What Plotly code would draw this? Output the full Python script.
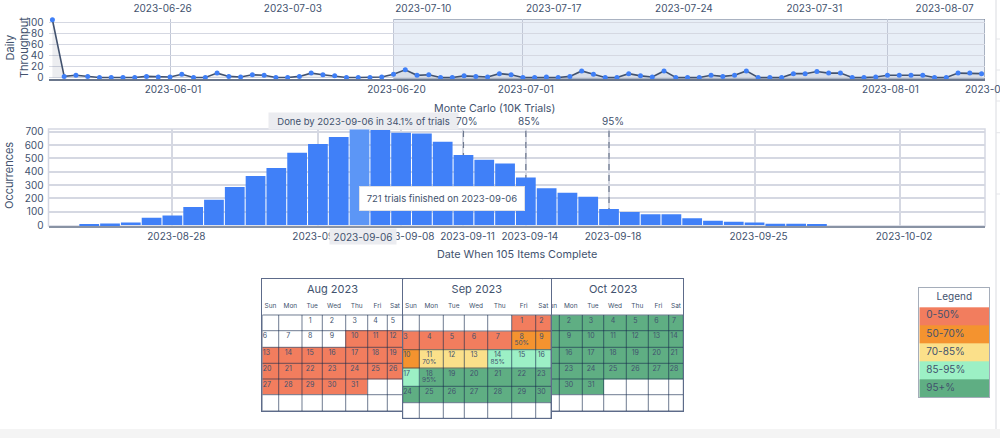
import pandas as pd
import plotly.graph_objects as go

W, H = 1000, 438
TEXT = "#42526e"
GRID = "#d5d8e2"
FONT = "Inter"

# ---------- data ----------
throughput_start = "2023-05-22"
throughput = [105, 2, 4, 2, 0, 0, 0, 0, 2, 1, 1, 6, 0, 0, 8, 2, 1, 5, 4, 0,
              0, 2, 8, 5, 3, 0, 0, 0, 1, 6, 14, 4, 5, 0, 0, 3, 2, 1, 7, 5,
              0, 0, 1, 0, 2, 12, 6, 0, 0, 7, 3, 1, 12, 0, 0, 0, 4, 2, 4, 12,
              0, 0, 0, 7, 7, 11, 8, 8, 0, 0, 1, 4, 4, 4, 4, 0, 0, 8, 8, 7]
top_lower_ticks = ["2023-06-01", "2023-06-20", "2023-07-01", "2023-08-01"]
top_upper_ticks = ["2023-06-26", "2023-07-03", "2023-07-10", "2023-07-17",
                   "2023-07-24", "2023-07-31", "2023-08-07"]

mc_start = "2023-08-24"
mc_counts = [7, 12, 20, 55, 72, 135, 190, 285, 367, 427, 542, 607, 660, 721,
             712, 692, 687, 625, 525, 490, 462, 357, 275, 242, 212, 120, 97, 82,
             82, 52, 32, 25, 20, 10, 10, 7]
mc_ticks = ["2023-08-28", "2023-09-04", "2023-09-08", "2023-09-11",
            "2023-09-14", "2023-09-18", "2023-09-25", "2023-10-02"]
pct_labels = ["70%", "85%", "95%"]
pct_dates = ["2023-09-11", "2023-09-14", "2023-09-18"]
weekdays = ["Sun", "Mon", "Tue", "Wed", "Thu", "Fri", "Sat"]

band_names = ["0-50%", "50-70%", "70-85%", "85-95%", "95+%"]
band_colors = ["#f27d5e", "#f4932f", "#fbe08a", "#9cf0c5", "#5fae83"]

aug_days = [["", "", 1, 2, 3, 4, 5], [6, 7, 8, 9, 10, 11, 12], [13, 14, 15, 16, 17, 18, 19],
            [20, 21, 22, 23, 24, 25, 26], [27, 28, 29, 30, 31, "", ""], [""] * 7]
aug_bands = [[0, 0, 0, 0, 0, 0, 0], [0, 0, 0, 0, 1, 1, 1], [1] * 7, [1] * 7, [1, 1, 1, 1, 1, 0, 0], [0] * 7]
sep_days = [["", "", "", "", "", 1, 2], [3, 4, 5, 6, 7, 8, 9], [10, 11, 12, 13, 14, 15, 16],
            [17, 18, 19, 20, 21, 22, 23], [24, 25, 26, 27, 28, 29, 30], [""] * 7]
sep_bands = [[0, 0, 0, 0, 0, 1, 1], [1, 1, 1, 1, 1, 2, 2], [2, 3, 3, 3, 4, 4, 4],
             [4, 5, 5, 5, 5, 5, 5], [5] * 7, [0] * 7]
oct_days = [[1, 2, 3, 4, 5, 6, 7], [8, 9, 10, 11, 12, 13, 14], [15, 16, 17, 18, 19, 20, 21],
            [22, 23, 24, 25, 26, 27, 28], [29, 30, 31, "", "", "", ""], [""] * 7]
oct_bands = [[5] * 7, [5] * 7, [5] * 7, [5] * 7, [5, 5, 5, 0, 0, 0, 0], [0] * 7]
sep_marks = {8: "50%", 11: "70%", 14: "85%", 18: "95%"}


# ---------- helpers ----------
def fx(px):
    return px / W


def fy(py):
    return 1 - py / H


dates_top = [str(d.date()) for d in pd.date_range(throughput_start, periods=len(throughput))]
dates_mc = [str(d.date()) for d in pd.date_range(mc_start, periods=len(mc_counts))]

fig = go.Figure()

# ---------- throughput ----------
fig.add_trace(go.Scatter(x=dates_top, y=throughput, mode="lines+markers", xaxis="x", yaxis="y",
                         line=dict(color="#42526e", width=1.6), marker=dict(color="#3f7ff7", size=5),
                         fill="tozeroy", fillcolor="rgba(66,82,110,0.10)", cliponaxis=False, showlegend=False))
# carrier trace so the upper date axis is drawn
fig.add_trace(go.Scatter(x=top_upper_ticks, y=[0] * len(top_upper_ticks), mode="none", xaxis="x2", yaxis="y",
                         showlegend=False, hoverinfo="skip"))

# ---------- monte carlo ----------
fig.add_trace(go.Bar(x=dates_mc, y=mc_counts, xaxis="x3", yaxis="y3", showlegend=False,
                     marker=dict(color=["#5c96f6" if d == "2023-09-06" else "#4080f8" for d in dates_mc], line_width=0)))

common_tick = dict(tickfont=dict(size=10, color=TEXT, family=FONT))
hidden_tick = dict(ticks="outside", ticklen=2, tickcolor="rgba(0,0,0,0)")
layout = dict(
    width=W, height=H, margin=dict(l=0, r=0, t=0, b=0, autoexpand=False), autosize=False,
    paper_bgcolor="white", plot_bgcolor="white", showlegend=False, bargap=0.05,
    font=dict(family=FONT, color=TEXT, size=10),
    xaxis=dict(domain=[fx(48.5), fx(985)], anchor="y", type="date",
               range=["2023-05-21 16:00", "2023-08-09 07:00"], tickmode="array", tickvals=top_lower_ticks,
               ticktext=top_lower_ticks, gridcolor="#c1c7d6", gridwidth=1, showline=True, linecolor="#6b778c",
               linewidth=1.5, ticks="", ticklabelshift=3, **common_tick),
    xaxis2=dict(overlaying="x", side="top", anchor="y", type="date",
                range=["2023-06-19 21:00", "2023-08-09 04:00"], tickmode="array", tickvals=top_upper_ticks,
                ticktext=top_upper_ticks, showgrid=False, ticks="outside", ticklen=2, tickcolor="rgba(0,0,0,0)",
                showline=False, **common_tick),
    yaxis=dict(domain=[fy(79), fy(19)], anchor="x", range=[-2.7, 106.4], tickmode="array",
               tickvals=[0, 20, 40, 60, 80, 100], gridcolor=GRID, gridwidth=1, zeroline=False, showline=False,
               **hidden_tick, **common_tick),
    xaxis3=dict(domain=[fx(48.5), fx(985)], anchor="y3", type="date",
                range=["2023-08-22 01:00", "2023-10-06 02:00"], tickmode="array", tickvals=mc_ticks,
                ticktext=mc_ticks, gridcolor=GRID, gridwidth=1.5, showline=True, linecolor="#8993a4",
                linewidth=1.5, mirror=False, ticks="", ticklabelshift=4, **common_tick),
    yaxis3=dict(domain=[fy(226), fy(129)], anchor="x3", range=[-7, 720], tickmode="array",
                tickvals=[0, 100, 200, 300, 400, 500, 600, 700], gridcolor=GRID, gridwidth=1.5, zeroline=False,
                showline=False, **hidden_tick, **common_tick),
)

shapes = [
    dict(type="rect", xref="x", yref="y", x0="2023-06-20", x1="2023-08-09 07:00", y0=-2.7, y1=106.4,
         fillcolor="#e8eef7", line=dict(color="#6b778c", width=1), layer="below"),
    dict(type="rect", xref="x3 domain", yref="y3 domain", x0=0, x1=1, y0=0, y1=1,
         line=dict(color=GRID, width=1.5), layer="below"),
    # page chrome
    dict(type="rect", xref="paper", yref="paper", x0=0, x1=1, y0=0, y1=fy(429),
         fillcolor="#f4f4f4", line=dict(width=0), layer="above"),
    dict(type="line", xref="paper", yref="paper", x0=fx(996), x1=fx(996), y0=fy(429), y1=1,
         line=dict(color="#d9dbe0", width=1), layer="below"),
]
for py in [39, 70, 101, 132.7, 194]:
    shapes.append(dict(type="line", xref="paper", yref="paper", x0=fx(996), x1=1, y0=fy(py), y1=fy(py),
                       line=dict(color="#e4e5e9", width=1), layer="below"))
for d in pct_dates:
    shapes.append(dict(type="line", xref="x3", yref="y3", x0=d, x1=d, y0=0, y1=720,
                       line=dict(color="#6b778c", width=1.2, dash="6px,5px"), layer="between"))

annotations = []


def label(px, py, text, size=10, **kw):
    annotations.append(dict(x=fx(px), y=fy(py), xref="paper", yref="paper", xanchor="center", yanchor="middle",
                            text=text, showarrow=False, font=dict(size=size, color=TEXT, family=FONT), **kw))


label(494, 109, "Monte Carlo (10K Trials)", 10.7)
label(517, 254, "Date When 105 Items Complete", 10.8)
label(9, 176, "Occurrences", 11, textangle=-90)
label(17, 48, "Daily<br>Throughput", 11, textangle=-90)
label(993, 89, "2023-08-10", 10)
label(363.5, 121, "Done by 2023-09-06 in 34.1% of trials", 9.5, bgcolor="#ebecf0", width=189, height=16, borderpad=0)
for t, d in zip(pct_labels, pct_dates):
    annotations.append(dict(x=d, y=fy(121), xref="x3", yref="paper", xshift=3.5, yanchor="middle", text=t,
                            showarrow=False, font=dict(size=10, color=TEXT, family=FONT)))
label(363, 236.5, "2023-09-06", 10, bgcolor="#ebecf0", width=66, height=15, borderpad=0)
label(441.5, 198, "721 trials finished on 2023-09-06", 9.5, bgcolor="white", bordercolor="#dfe1e6", borderwidth=1,
      width=164, height=23, borderpad=0)

# ---------- calendars ----------
scale = ["#ffffff"] + band_colors
colorscale = []
for i, c in enumerate(scale):
    colorscale += [[i / 6, c], [(i + 1) / 6, c]]


def calendar(ax_id, name, days, bands, col_edges, row_edges, top, marks=None):
    ax_x, ax_y = f"x{ax_id}", f"y{ax_id}"
    bottom = top + row_edges[-1]
    # header band + week rows, all opaque so later panels cover earlier ones
    y_edges = [0] + row_edges
    z = [[0] * 7] + bands
    fig.add_trace(go.Heatmap(x=col_edges, y=y_edges, z=z, xaxis=ax_x, yaxis=ax_y, zmin=0, zmax=6,
                             colorscale=colorscale, showscale=False, hoverinfo="skip"))
    # cell borders
    lx, ly = [], []
    for e in col_edges:
        lx += [e, e, None]
        ly += [row_edges[0], row_edges[-1], None]
    for e in row_edges:
        lx += [col_edges[0], col_edges[-1], None]
        ly += [e, e, None]
    fig.add_trace(go.Scatter(x=lx, y=ly, mode="lines", xaxis=ax_x, yaxis=ax_y, hoverinfo="skip",
                             line=dict(color="rgba(23,43,77,0.62)", width=1)))
    centers = [(a + b) / 2 for a, b in zip(col_edges[:-1], col_edges[1:])]
    # weekday header and title
    fig.add_trace(go.Scatter(x=centers, y=[27.5] * 7, text=weekdays, mode="text", xaxis=ax_x, yaxis=ax_y,
                             textfont=dict(size=6.5, color=TEXT, family=FONT), hoverinfo="skip"))
    fig.add_trace(go.Scatter(x=[(col_edges[0] + col_edges[-1]) / 2], y=[10.5], text=[name], mode="text",
                             xaxis=ax_x, yaxis=ax_y, textfont=dict(size=11, color=TEXT, family=FONT),
                             hoverinfo="skip"))
    # day numbers
    xs, ys, ts, ps = [], [], [], []
    mx, my, mt = [], [], []
    for r, week in enumerate(days):
        for c, d in enumerate(week):
            if d == "":
                continue
            if c == 0:
                xs.append(col_edges[0] + 0.5)
                ps.append("middle right")
            else:
                xs.append(centers[c] - 2)
                ps.append("middle center")
            ys.append(row_edges[r] + 6)
            ts.append(str(d))
            if marks and d in marks:
                mx.append(centers[c] - 2)
                my.append(row_edges[r] + 12.5)
                mt.append(marks[d])
    fig.add_trace(go.Scatter(x=xs, y=ys, text=ts, textposition=ps, mode="text", xaxis=ax_x, yaxis=ax_y,
                             textfont=dict(size=7, color=TEXT, family=FONT), hoverinfo="skip"))
    if mt:
        fig.add_trace(go.Scatter(x=mx, y=my, text=mt, mode="text", xaxis=ax_x, yaxis=ax_y,
                                 textfont=dict(size=6.5, color=TEXT, family=FONT), hoverinfo="skip"))
    left = col_edges[0]
    layout[f"xaxis{ax_id}"] = dict(domain=[fx(left), fx(col_edges[-1])], range=[left, col_edges[-1]], anchor=ax_y,
                                   visible=True, showgrid=False, zeroline=False, showticklabels=False, ticks="",
                                   showline=True, mirror=True, linecolor="#5d6b8a", linewidth=1)
    layout[f"yaxis{ax_id}"] = dict(domain=[fy(bottom), fy(top)], range=[row_edges[-1], 0], anchor=ax_x,
                                   showgrid=False, zeroline=False, showticklabels=False, ticks="",
                                   showline=True, mirror=True, linecolor="#5d6b8a", linewidth=1)


rows_side = [35.7, 51.4, 68, 84, 99.7, 115.4, 131.7]
rows_mid = [35.7, 51.7, 70.4, 88.7, 107, 123.4, 139]
calendar(4, "Aug 2023", aug_days, aug_bands, [262.3, 278.7, 302, 322.3, 345.7, 367.7, 387.3, 402.7], rows_side, 279.3)
calendar(5, "Oct 2023", oct_days, oct_bands, [543, 559.3, 582.3, 603.7, 626.3, 648.3, 668.7, 683.3], rows_side, 279.3)
calendar(6, "Sep 2023", sep_days, sep_bands, [402.7, 419.3, 443.3, 464.3, 487.7, 511.7, 535.7, 551], rows_mid, 279.3,
         sep_marks)

# ---------- legend panel ----------
legend_rows = [0, 18.7, 36.7, 55, 73, 91, 109]
fig.add_trace(go.Heatmap(x=[0, 70], y=legend_rows, z=[[0], [1], [2], [3], [4], [5]], xaxis="x7", yaxis="y7",
                         zmin=0, zmax=6, colorscale=colorscale, showscale=False, hoverinfo="skip"))
fig.add_trace(go.Scatter(x=[7] * 5, y=[(a + b) / 2 for a, b in zip(legend_rows[1:-1], legend_rows[2:])],
                         text=band_names, mode="text", textposition="middle right", xaxis="x7", yaxis="y7",
                         textfont=dict(size=10, color=TEXT, family=FONT), hoverinfo="skip"))
fig.add_trace(go.Scatter(x=[35], y=[9.5], text=["Legend"], mode="text", xaxis="x7", yaxis="y7",
                         textfont=dict(size=10, color=TEXT, family=FONT), hoverinfo="skip"))
layout["xaxis7"] = dict(domain=[fx(919.3), fx(989.3)], range=[0, 70], anchor="y7", showgrid=False, zeroline=False,
                        showticklabels=False, ticks="", showline=True, mirror=True, linecolor="#a5adba", linewidth=1)
layout["yaxis7"] = dict(domain=[fy(397.3), fy(288.3)], range=[109, 0], anchor="x7", showgrid=False, zeroline=False,
                        showticklabels=False, ticks="", showline=True, mirror=True, linecolor="#a5adba", linewidth=1)

layout["shapes"] = shapes
layout["annotations"] = annotations
fig.update_layout(**layout)
fig.update_traces(showlegend=False)

fig.write_html("out.html", config={"displayModeBar": False},
               post_script="document.body.style.margin='0';document.body.style.overflow='hidden';")
